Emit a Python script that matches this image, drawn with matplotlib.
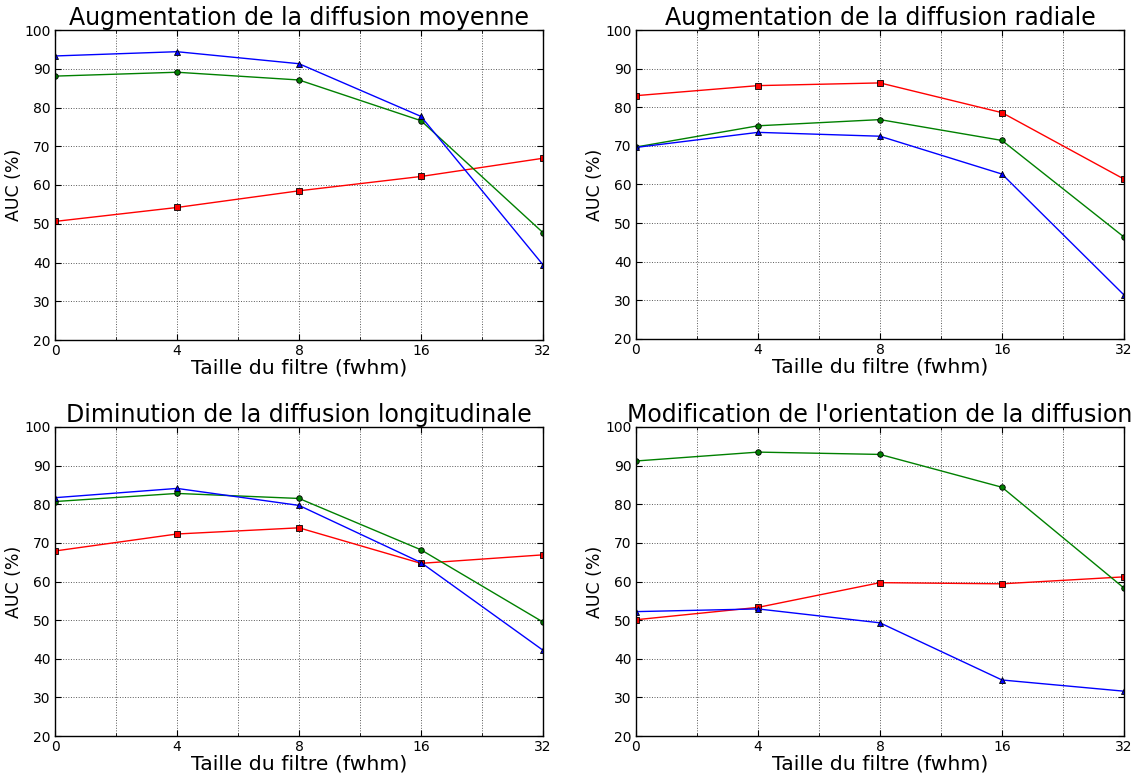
import matplotlib.pyplot as plt

# Filter sizes (evenly spaced on the x axis)
filter_sizes = ['0', '4', '8', '16', '32']

titles = ["Augmentation de la diffusion moyenne",
          "Augmentation de la diffusion radiale",
          "Diminution de la diffusion longitudinale",
          "Modification de l'orientation de la diffusion"]

# AUC values (%) per panel: red / green / blue series
red_moyenne = [50.6, 54.2, 58.5, 62.2, 66.9]
green_moyenne = [88.1, 89.1, 87.1, 76.6, 47.7]
blue_moyenne = [93.3, 94.4, 91.3, 77.7, 39.4]

red_radiale = [83.0, 85.6, 86.3, 78.6, 61.4]
green_radiale = [69.7, 75.2, 76.8, 71.4, 46.4]
blue_radiale = [69.6, 73.5, 72.5, 62.7, 31.4]

red_longi = [67.9, 72.3, 73.9, 64.7, 66.9]
green_longi = [80.7, 82.8, 81.5, 68.2, 49.5]
blue_longi = [81.7, 84.1, 79.7, 64.9, 42.2]

red_orient = [50.1, 53.3, 59.7, 59.4, 61.2]
green_orient = [91.2, 93.5, 92.9, 84.4, 58.3]
blue_orient = [52.2, 52.9, 49.3, 34.5, 31.6]

panels = [
    (red_moyenne, green_moyenne, blue_moyenne),
    (red_radiale, green_radiale, blue_radiale),
    (red_longi, green_longi, blue_longi),
    (red_orient, green_orient, blue_orient),
]

W, H = 1138, 774
# axes boxes in pixels (left, top, right, bottom)
boxes = [(55, 30, 543, 340), (636, 30, 1124, 339),
         (55, 427, 543, 736), (636, 427, 1124, 736)]

fig = plt.figure(figsize=(W / 100, H / 100), dpi=100)
x = list(range(len(filter_sizes)))

for (l, t, r, b), title, (red, green, blue) in zip(boxes, titles, panels):
    ax = fig.add_axes([l / W, 1 - b / H, (r - l) / W, (b - t) / H])
    ax.plot(x, red, color='red', lw=1, marker='s', ms=4, mfc='red', mec='black', mew=0.6)
    ax.plot(x, green, color='green', lw=1, marker='o', ms=4, mfc='green', mec='black', mew=0.6)
    ax.plot(x, blue, color='blue', lw=1, marker='^', ms=4, mfc='blue', mec='black', mew=0.6)

    ax.set_xlim(0, len(filter_sizes) - 1)
    ax.set_ylim(20, 100)
    ax.set_xticks(x)
    ax.set_xticklabels(filter_sizes)
    ax.set_xticks([i + 0.5 for i in x[:-1]], minor=True)
    ax.set_yticks(range(20, 101, 10))
    ax.tick_params(which='both', direction='in', top=True, right=True, labelsize=10, pad=3)
    ax.tick_params(which='major', length=4)
    ax.tick_params(which='minor', length=2)
    ax.grid(True, which='both', color='0.35', linestyle=':', linewidth=0.7)
    for s in ax.spines.values():
        s.set_linewidth(1)

    ax.set_title(title, fontsize=17, pad=3)
    ax.set_xlabel("Taille du filtre (fwhm)", fontsize=14.7, labelpad=0)
    ax.set_ylabel("AUC (%)", fontsize=12.5, labelpad=1)

fig.savefig('out.png', dpi=100)
